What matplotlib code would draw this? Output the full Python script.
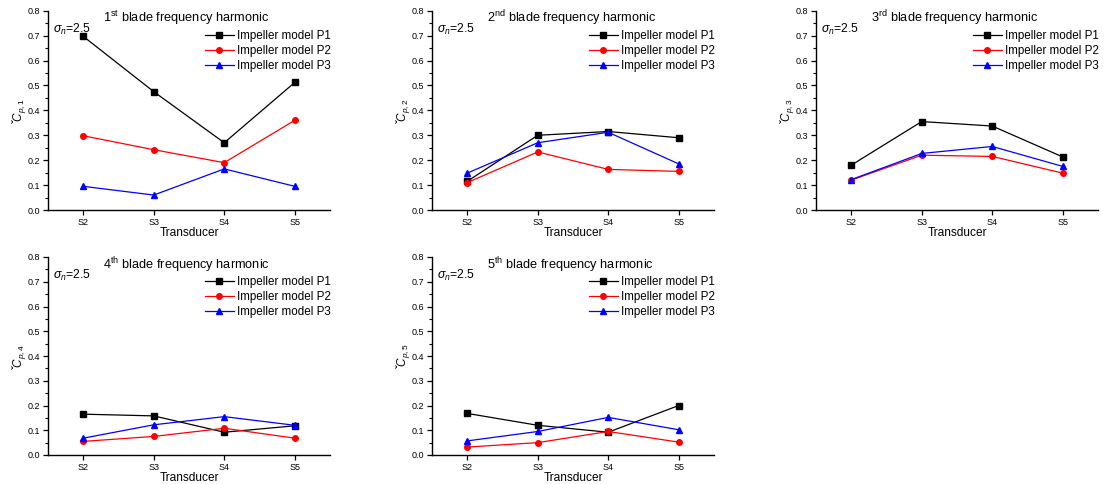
import matplotlib
matplotlib.use("Agg")
import matplotlib.pyplot as plt
from matplotlib.ticker import MultipleLocator

plt.rcParams['font.family'] = ['Liberation Sans', 'DejaVu Sans']
plt.rcParams['mathtext.fontset'] = 'custom'
plt.rcParams['mathtext.rm'] = 'Liberation Sans'
plt.rcParams['mathtext.it'] = 'Liberation Sans:italic'
plt.rcParams['mathtext.bf'] = 'Liberation Sans:bold'

transducers = ["S2", "S3", "S4", "S5"]
series_names = ["Impeller model P1", "Impeller model P2", "Impeller model P3"]
harmonic_titles = [r"1$^{\mathrm{st}}$ blade frequency harmonic",
                   r"2$^{\mathrm{nd}}$ blade frequency harmonic",
                   r"3$^{\mathrm{rd}}$ blade frequency harmonic",
                   r"4$^{\mathrm{th}}$ blade frequency harmonic",
                   r"5$^{\mathrm{th}}$ blade frequency harmonic"]
ylabels = [r"$\check{C}_{p,1}$", r"$\check{C}_{p,2}$", r"$\check{C}_{p,3}$",
           r"$\check{C}_{p,4}$", r"$\check{C}_{p,5}$"]

h1_p1 = [0.697, 0.475, 0.270, 0.512]
h1_p2 = [0.298, 0.242, 0.190, 0.360]
h1_p3 = [0.095, 0.060, 0.165, 0.095]

h2_p1 = [0.115, 0.300, 0.315, 0.290]
h2_p2 = [0.110, 0.233, 0.163, 0.155]
h2_p3 = [0.148, 0.270, 0.312, 0.185]

h3_p1 = [0.180, 0.355, 0.337, 0.213]
h3_p2 = [0.120, 0.220, 0.215, 0.148]
h3_p3 = [0.122, 0.227, 0.255, 0.175]

h4_p1 = [0.165, 0.158, 0.092, 0.118]
h4_p2 = [0.055, 0.075, 0.108, 0.068]
h4_p3 = [0.068, 0.122, 0.155, 0.120]

h5_p1 = [0.168, 0.120, 0.092, 0.200]
h5_p2 = [0.032, 0.050, 0.095, 0.052]
h5_p3 = [0.057, 0.095, 0.152, 0.102]

data = [(h1_p1, h1_p2, h1_p3), (h2_p1, h2_p2, h2_p3), (h3_p1, h3_p2, h3_p3),
        (h4_p1, h4_p2, h4_p3), (h5_p1, h5_p2, h5_p3)]

colors = ["black", "red", "blue"]
markers = ["s", "o", "^"]

W, H = 1104, 484
fig = plt.figure(figsize=(W / 100, H / 100), dpi=100)

lefts = [48, 432, 816]
row_px = [(10.7, 210), (257, 455)]
width_px = 282

for i in range(5):
    r, c = divmod(i, 3)
    top, bot = row_px[r]
    ax = fig.add_axes([lefts[c] / W, 1 - bot / H, width_px / W, (bot - top) / H])
    x = list(range(len(transducers)))
    for s in range(3):
        ax.plot(x, data[i][s], color=colors[s], marker=markers[s], markersize=4,
                linewidth=0.9, label=series_names[s])
    ax.set_xlim(-0.5, 3.5)
    ax.set_ylim(0, 0.8)
    ax.set_xticks(x)
    ax.set_xticklabels(transducers)
    ax.yaxis.set_major_locator(MultipleLocator(0.1))
    ax.yaxis.set_minor_locator(MultipleLocator(0.05))
    ax.yaxis.set_major_formatter(matplotlib.ticker.FormatStrFormatter('%.1f'))
    ax.spines['top'].set_visible(False)
    ax.spines['right'].set_visible(False)
    for sp in ['left', 'bottom']:
        ax.spines[sp].set_linewidth(1.0)
    ax.tick_params(axis='both', which='major', direction='out', length=3.5, width=0.9,
                   labelsize=6.5, pad=2, colors='black')
    ax.tick_params(axis='y', which='minor', direction='out', length=2, width=0.8)
    ax.set_xlabel("Transducer", fontsize=8.6, labelpad=0)
    ax.set_ylabel(ylabels[i], fontsize=8.5, labelpad=-1)
    ax.text(0.195, 1.01, harmonic_titles[i], transform=ax.transAxes, fontsize=9.2,
            ha='left', va='top')
    ax.text(0.018, 0.945, r"$\sigma_n$=2.5", transform=ax.transAxes, fontsize=8.8,
            ha='left', va='top')
    ax.legend(loc='upper left', bbox_to_anchor=(0.555, 0.905), frameon=False,
              fontsize=8.4, handlelength=2.5, handletextpad=0.3, labelspacing=0.28,
              borderaxespad=0, borderpad=0)

fig.savefig("out.png", dpi=100)
